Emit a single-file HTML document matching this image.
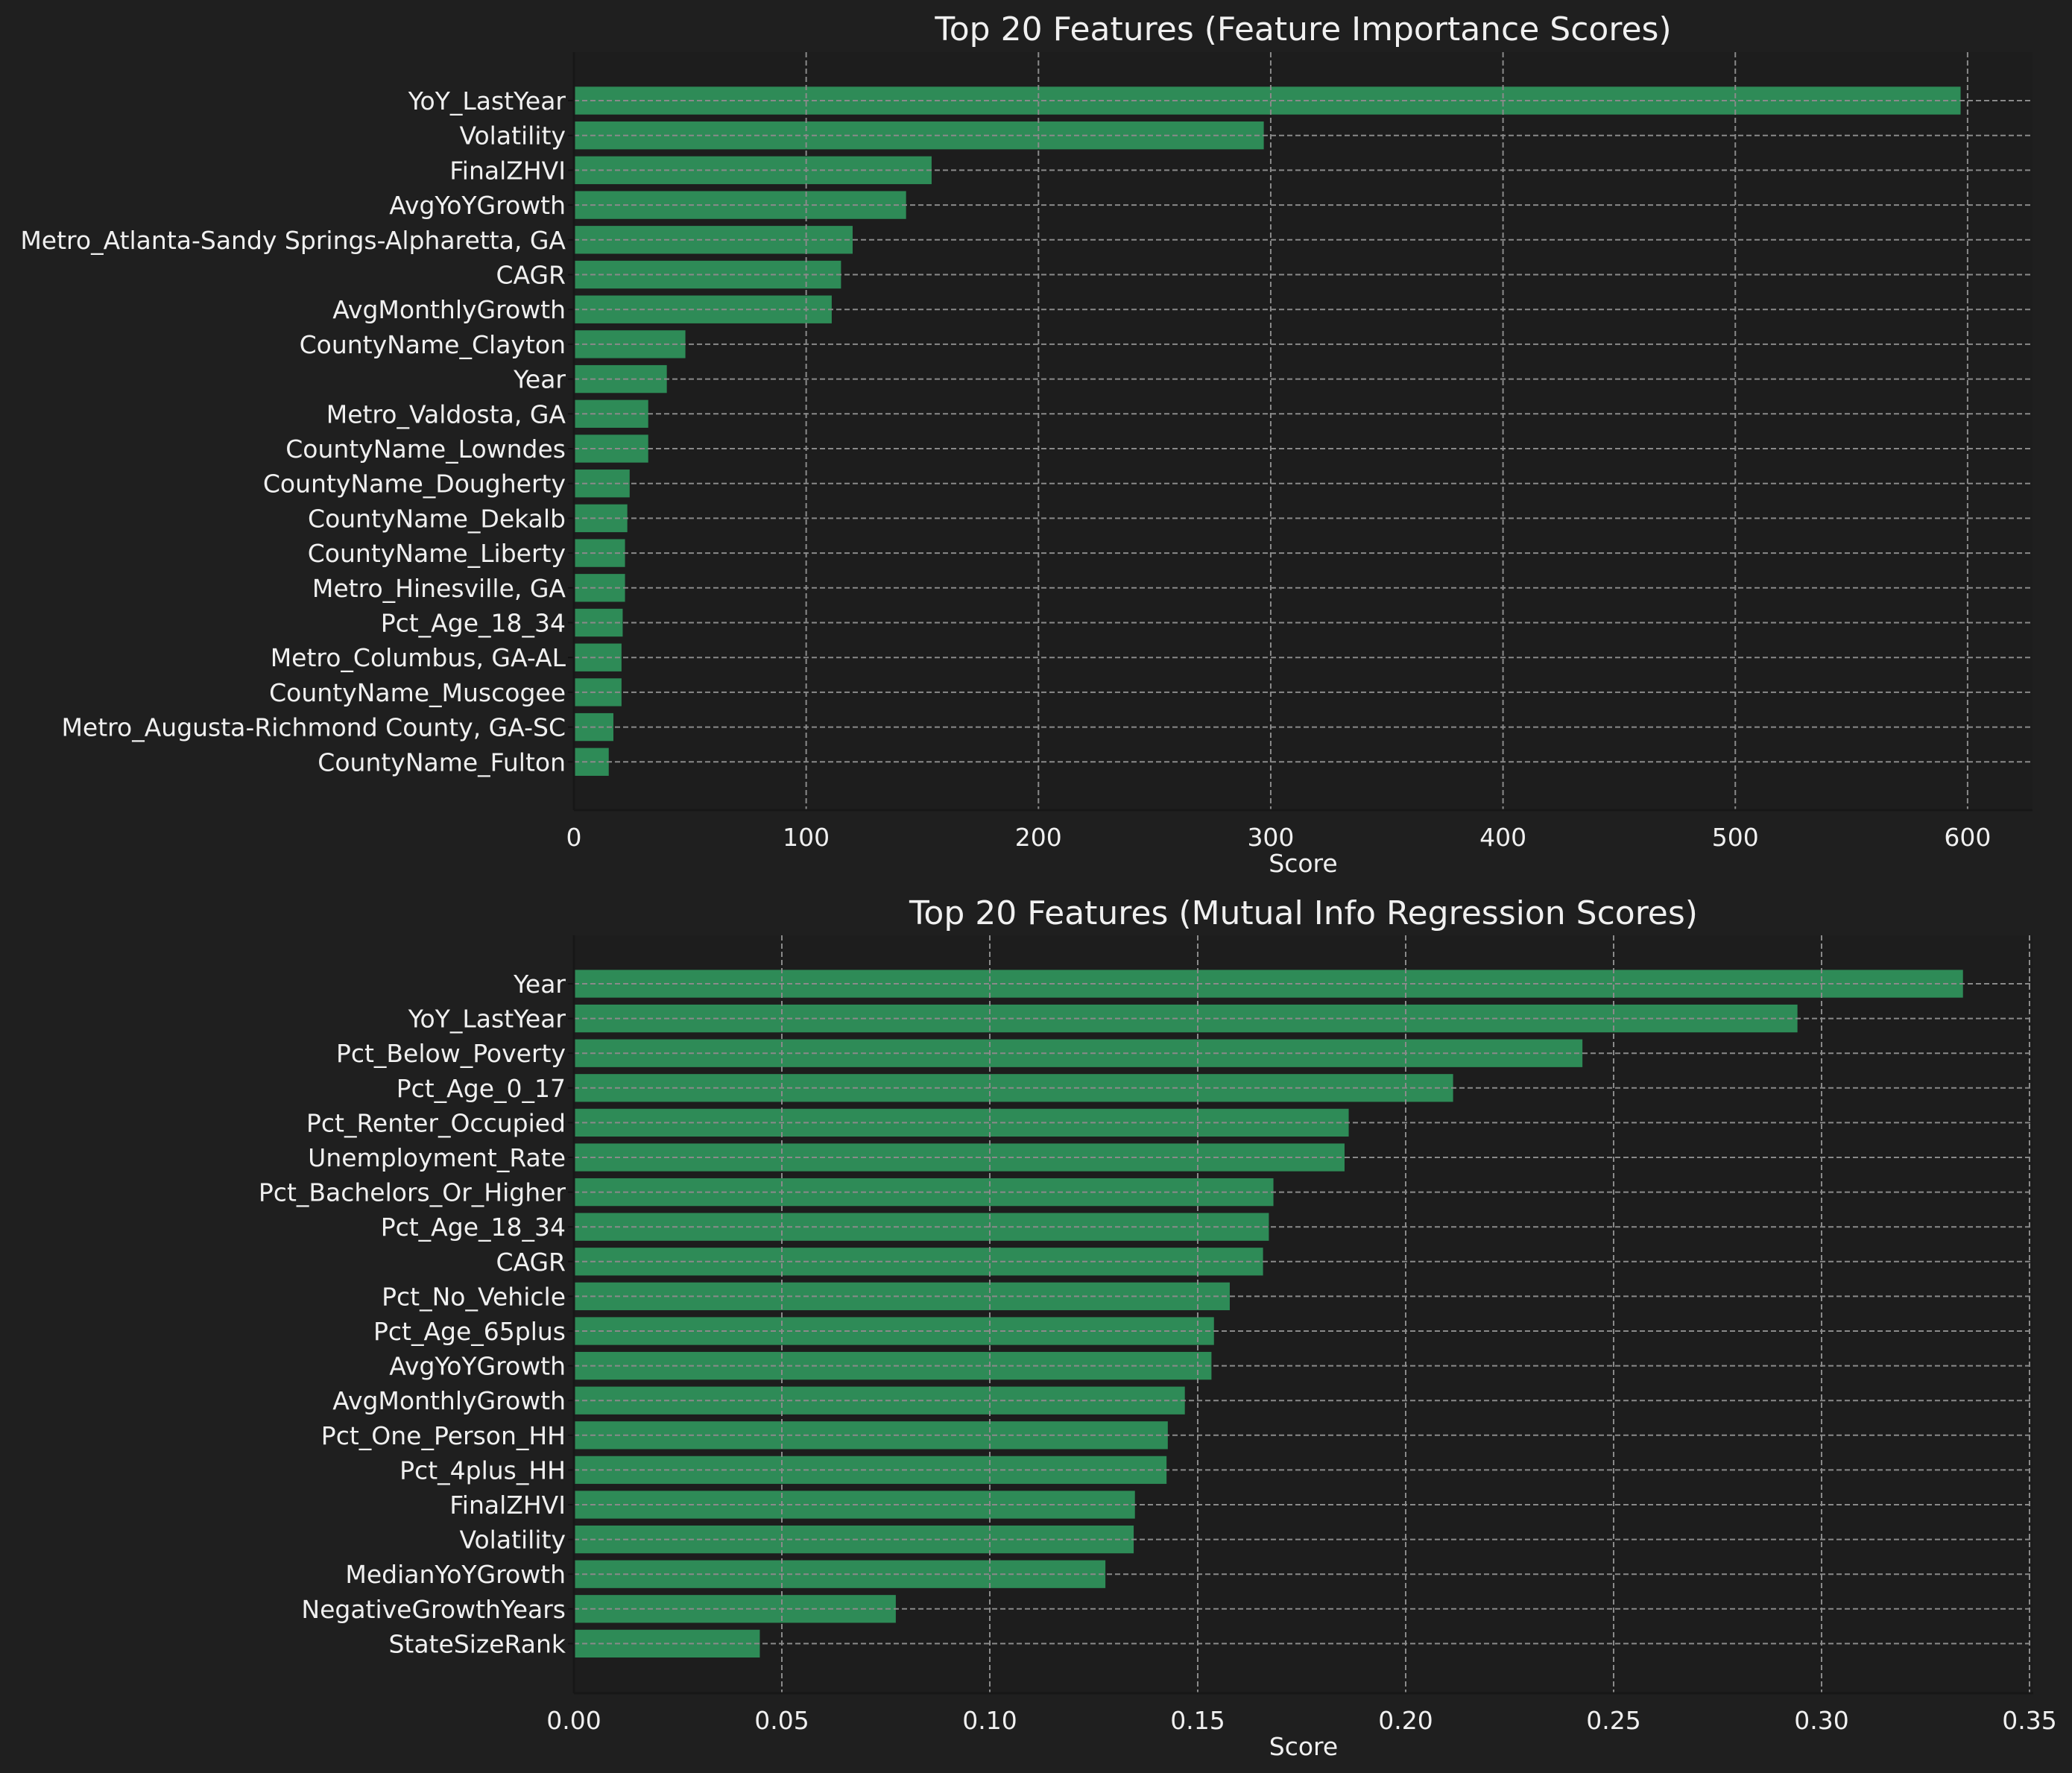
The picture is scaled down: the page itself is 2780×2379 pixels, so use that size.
<!DOCTYPE html>
<html><head><meta charset="utf-8"><style>
html,body{margin:0;padding:0;background:#1f1f1f;}
svg{display:block;font-family:"DejaVu Sans","Liberation Sans",sans-serif;}
</style></head><body>
<svg id="fig" width="2780" height="2379" viewBox="0 0 2780 2379" xmlns="http://www.w3.org/2000/svg">
<rect width="2780" height="2379" fill="#1f1f1f"/>
<g id="chart1"></g>
<g id="chart2"></g>
</svg>
<script>
const fiCategories = ["YoY_LastYear","Volatility","FinalZHVI","AvgYoYGrowth","Metro_Atlanta-Sandy Springs-Alpharetta, GA","CAGR","AvgMonthlyGrowth","CountyName_Clayton","Year","Metro_Valdosta, GA","CountyName_Lowndes","CountyName_Dougherty","CountyName_Dekalb","CountyName_Liberty","Metro_Hinesville, GA","Pct_Age_18_34","Metro_Columbus, GA-AL","CountyName_Muscogee","Metro_Augusta-Richmond County, GA-SC","CountyName_Fulton"];
const fiValues = [597,297,154,143,120,115,111,48,40,32,32,24,23,22,22,21,20.5,20.5,17,15];
const fiTicks = [0,100,200,300,400,500,600];
const fiTickLabels = ["0","100","200","300","400","500","600"];

const miCategories = ["Year","YoY_LastYear","Pct_Below_Poverty","Pct_Age_0_17","Pct_Renter_Occupied","Unemployment_Rate","Pct_Bachelors_Or_Higher","Pct_Age_18_34","CAGR","Pct_No_Vehicle","Pct_Age_65plus","AvgYoYGrowth","AvgMonthlyGrowth","Pct_One_Person_HH","Pct_4plus_HH","FinalZHVI","Volatility","MedianYoYGrowth","NegativeGrowthYears","StateSizeRank"];
const miValues = [0.334,0.2942,0.2425,0.2114,0.1863,0.1853,0.1682,0.1671,0.1657,0.1577,0.1539,0.1533,0.1469,0.1428,0.1425,0.1349,0.1346,0.1278,0.0774,0.0447];
const miTicks = [0,0.05,0.10,0.15,0.20,0.25,0.30,0.35];
const miTickLabels = ["0.00","0.05","0.10","0.15","0.20","0.25","0.30","0.35"];

const NS="http://www.w3.org/2000/svg";
function mk(parent,tag,attrs){const e=document.createElementNS(NS,tag);for(const k in attrs)e.setAttribute(k,attrs[k]);parent.appendChild(e);return e;}

function draw(g, cats, vals, ticks, tickLabels, cfg){
  const xScale = v => cfg.x0 + v*cfg.pxPerUnit;
  const yScale = i => cfg.yFirst + i*cfg.step;
  const bh = cfg.step*0.8;
  const bg = mk(g,'rect',{x:cfg.x0,y:cfg.top,width:cfg.right-cfg.x0,height:cfg.bottom-cfg.top,fill:'#1d1d1d'});
  
  
  cats.forEach((c,i)=>{
    const r = mk(g,'rect',{x:xScale(0),y:yScale(i)-bh/2,width:xScale(vals[i])-xScale(0),height:bh,fill:'#2e8b57'});
    
    
  });
  ticks.forEach((t,k)=>{
    const x=xScale(t);
    const l=mk(g,'line',{x1:x,x2:x,y1:cfg.top,y2:cfg.bottom,stroke:'#8a8a8a','stroke-width':2,'stroke-dasharray':'7,4'});
    
    
    const tx=mk(g,'text',{x:x,y:cfg.bottom+48,'font-size':33,fill:'#f0f0f0','text-anchor':'middle'});
    tx.textContent=tickLabels[k];
    
    
  });
  cats.forEach((c,i)=>{
    const y=yScale(i);
    const l=mk(g,'line',{x1:cfg.x0,x2:cfg.right,y1:y,y2:y,stroke:'#8a8a8a','stroke-width':2,'stroke-dasharray':'7,4'});
    
    
    const tk=mk(g,'line',{x1:cfg.x0-8,x2:cfg.x0,y1:y,y2:y,stroke:'#111','stroke-width':2});
    
    
    const tx=mk(g,'text',{x:cfg.x0-11,y:y+12,'font-size':33,fill:'#f0f0f0','text-anchor':'end'});
    tx.textContent=c;
    
    
  });
  const sp1=mk(g,'line',{x1:cfg.x0,x2:cfg.x0,y1:cfg.top,y2:cfg.bottom,stroke:'#171717','stroke-width':3});
  
  
  const sp2=mk(g,'line',{x1:cfg.x0,x2:cfg.right,y1:cfg.bottom,y2:cfg.bottom,stroke:'#171717','stroke-width':3});
  
  
  const t=mk(g,'text',{x:(cfg.x0+cfg.right)/2,y:cfg.titleY,'font-size':44,fill:'#f0f0f0','text-anchor':'middle'});
  t.textContent=cfg.title;
  
  
  const xl=mk(g,'text',{x:(cfg.x0+cfg.right)/2,y:cfg.bottom+83,'font-size':33,fill:'#f0f0f0','text-anchor':'middle'});
  xl.textContent='Score';
  
  
}
draw(document.getElementById('chart1'),fiCategories,fiValues,fiTicks,fiTickLabels,
 {x0:770,right:2727,pxPerUnit:3.1165,top:70,bottom:1087,yFirst:135,step:46.7,titleY:54,title:'Top 20 Features (Feature Importance Scores)'});
draw(document.getElementById('chart2'),miCategories,miValues,miTicks,miTickLabels,
 {x0:770,right:2728,pxPerUnit:5580,top:1255,bottom:2272,yFirst:1320,step:46.6,titleY:1240,title:'Top 20 Features (Mutual Info Regression Scores)'});
</script>
</body></html>
